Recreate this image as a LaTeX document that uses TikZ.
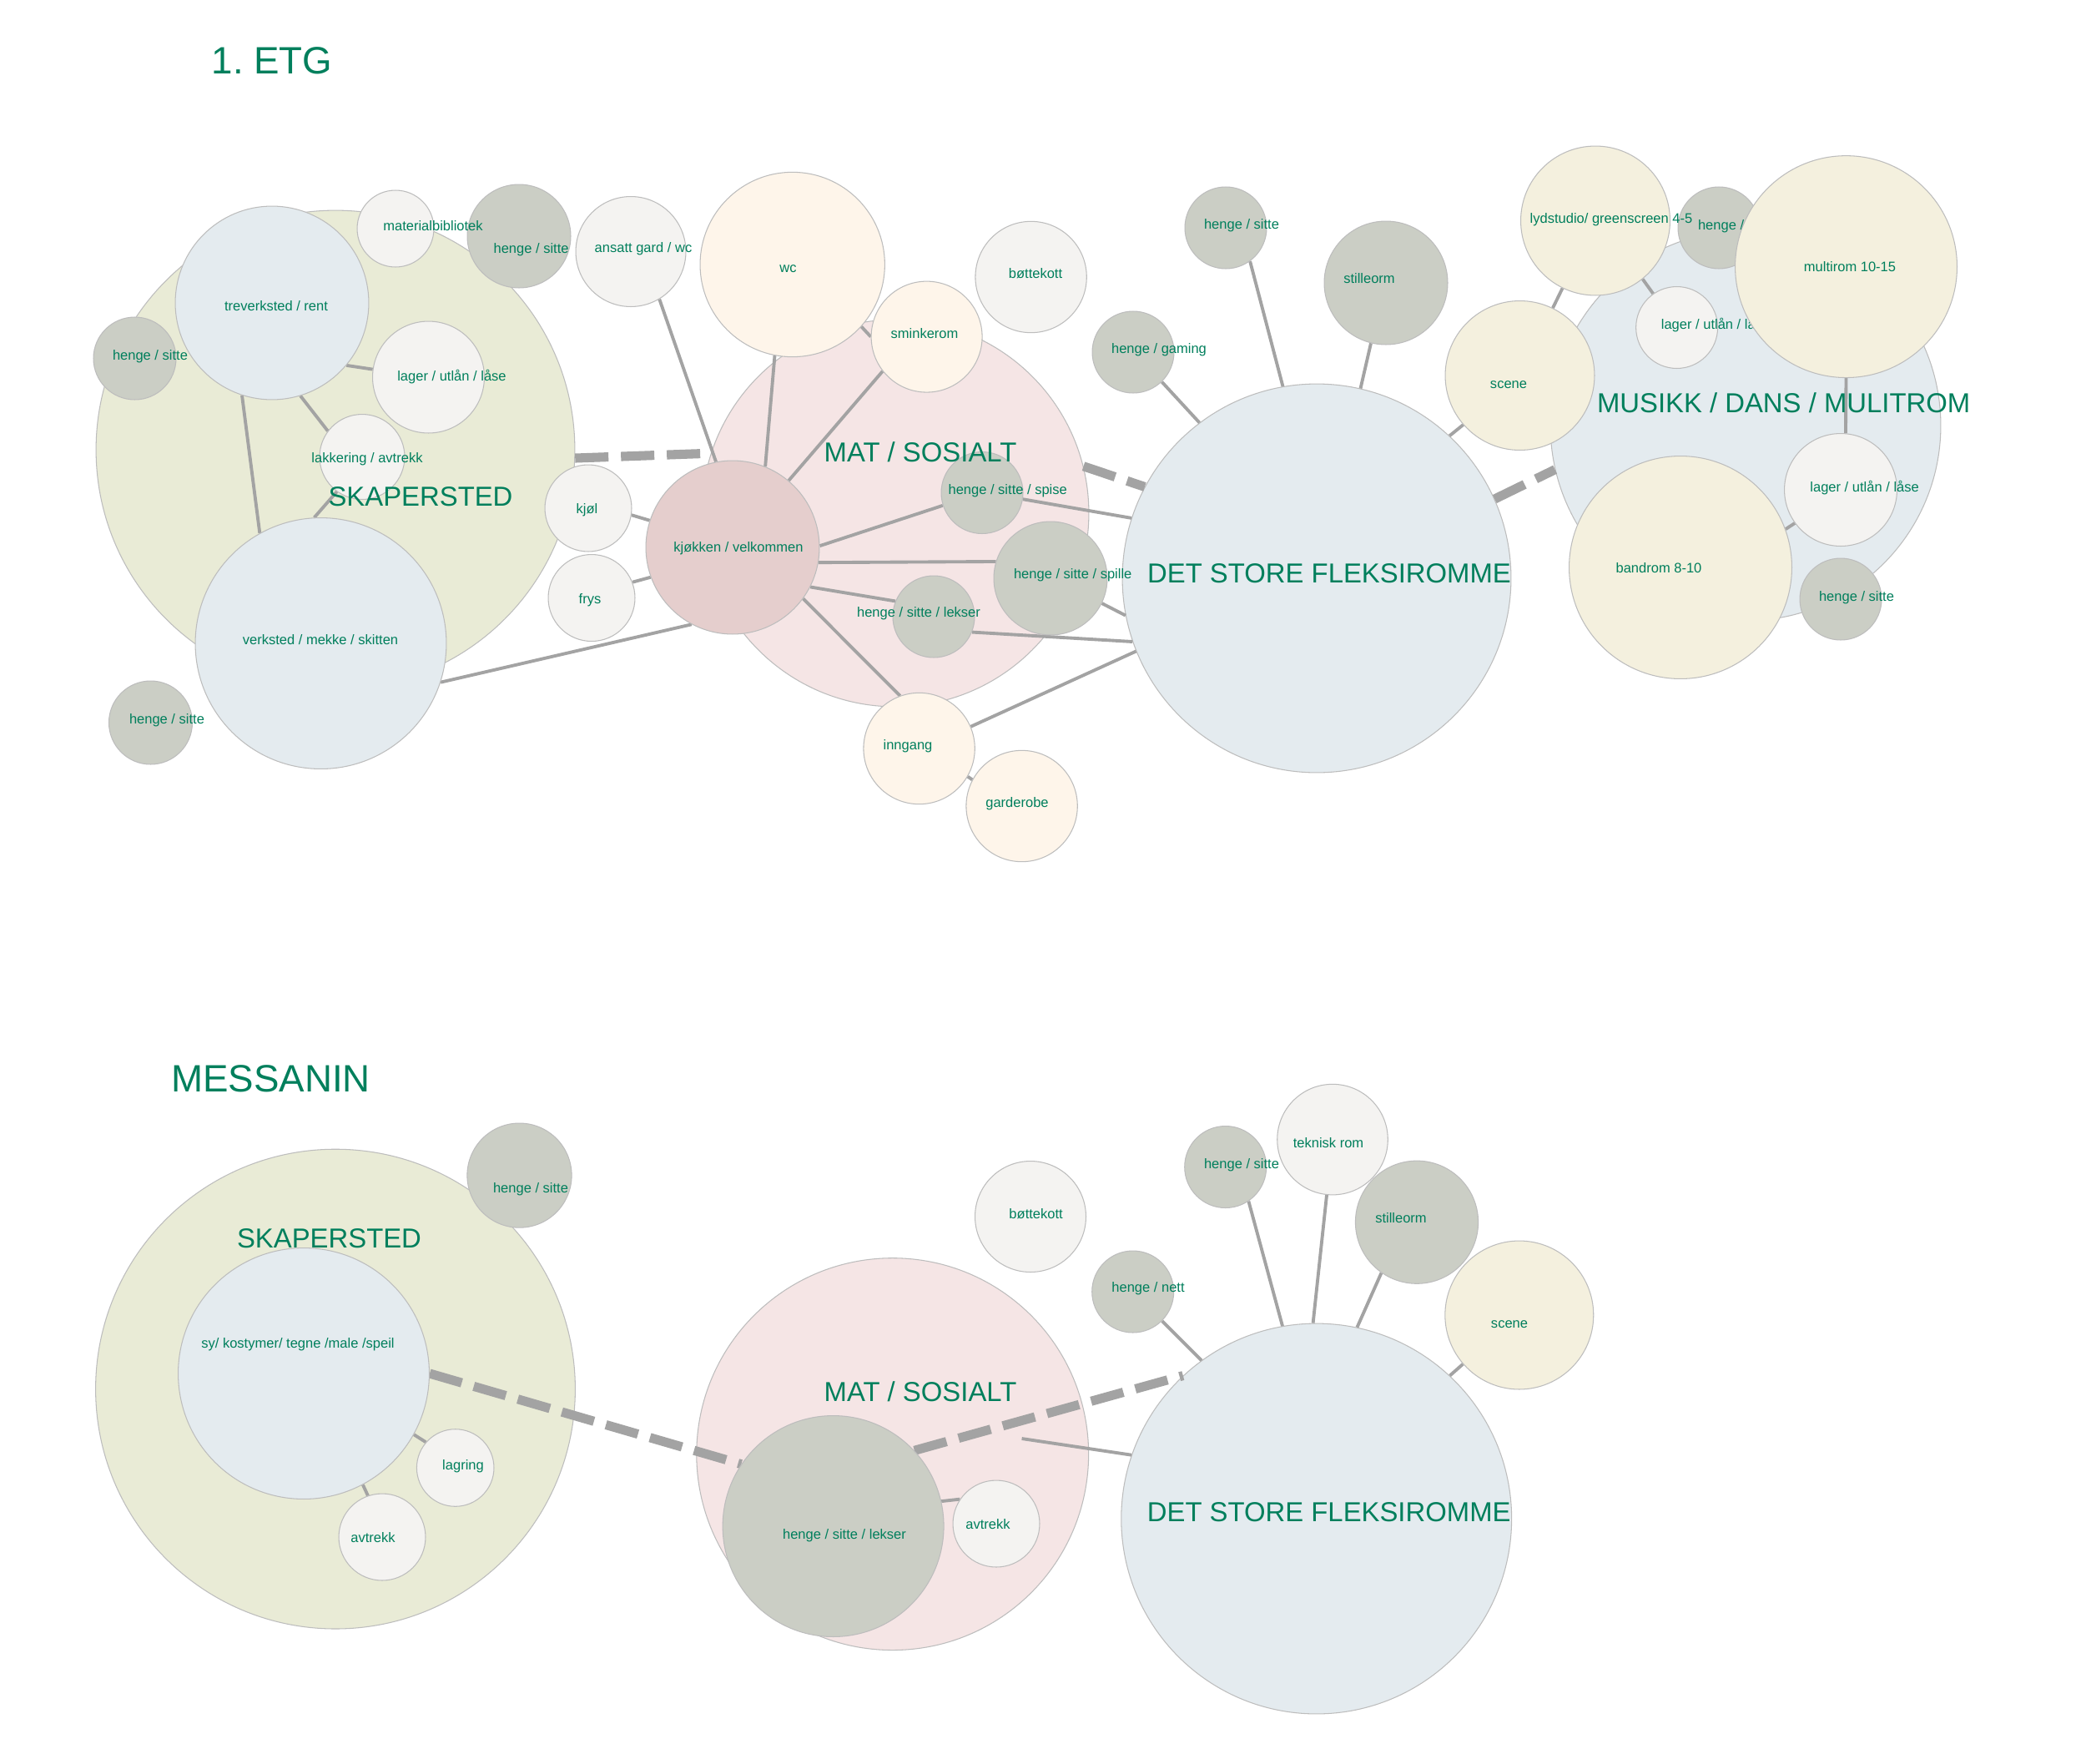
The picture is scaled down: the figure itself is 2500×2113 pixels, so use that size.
\documentclass[tikz,border=0pt]{standalone}
\usepackage{fontspec}
\setmainfont{Liberation Sans}
\frenchspacing
\pgfdeclarelayer{bgA}
\pgfdeclarelayer{bgB}
\pgfdeclarelayer{fg}
\pgfsetlayers{bgA,bgB,main,fg}
\definecolor{cskap}{HTML}{E9EBD6}
\definecolor{cblue}{HTML}{E4EBEF}
\definecolor{chenge}{HTML}{CBCEC5}
\definecolor{cwhite}{HTML}{F4F3F1}
\definecolor{cmat}{HTML}{F5E5E5}
\definecolor{ckjk}{HTML}{E5CECD}
\definecolor{ccream}{HTML}{FEF5EA}
\definecolor{cbeige}{HTML}{F4F0DE}
\definecolor{tgreen}{HTML}{007F5C}
\definecolor{lgray}{HTML}{A3A3A3}
\definecolor{ocol}{HTML}{BDBDBD}
\tikzset{
  bub/.style={circle, draw=ocol, line width=0.6pt, inner sep=0pt, minimum size=#1*0.04cm},
  sm/.style={text=tgreen, inner sep=0pt, font=\fontsize{9.4}{11}\selectfont},
  big/.style={text=tgreen, inner sep=0pt, font=\fontsize{18.7}{22}\selectfont},
  ttl/.style={text=tgreen, inner sep=0pt, font=\fontsize{26}{30}\selectfont},
  con/.style={draw=lgray, line width=2.2pt},
  dl/.style={draw=lgray, line width=6.3pt, dash pattern=on 0.8cm off 0.3cm},
}
\begin{document}
\begin{tikzpicture}[x=0.02cm, y=-0.02cm]
\begin{pgfonlayer}{bgA}
\fill[white] (0,0) rectangle (2500,2113);
\useasboundingbox (0,0) rectangle (2500,2113);
% top big circles
\node[bub=287, fill=cskap] (skap1) at (402,539) {};
\node[bub=232, fill=cmat] (mat1) at (1073,615) {};
\node[bub=233, fill=cblue] (det1) at (1578,693) {};
\node[bub=234, fill=cblue] (mus1) at (2092,510) {};
% bottom big circles
\node[bub=287.5, fill=cskap] (skap2) at (402,1664.6) {};
\node[bub=235, fill=cmat] (mat2) at (1069.7,1742.6) {};
\node[bub=234, fill=cblue] (det2) at (1577.7,1820) {};
\end{pgfonlayer}

% ---------- top small circles ----------
\node[bub=116, fill=cblue] (trev) at (326,363) {};
\node[bub=150.5, fill=cblue] (verk) at (384.5,771) {};
\node[bub=49.5, fill=chenge] (hsA) at (161.5,429.5) {};
\node[bub=62, fill=chenge] (hsB) at (622,283) {};
\node[bub=46, fill=cwhite] (matb) at (474,274) {};
\node[bub=67, fill=cwhite] (lag1) at (513.5,452) {};
\node[bub=51, fill=cwhite] (lakk) at (434,547.5) {};
\node[bub=50, fill=chenge] (hsC) at (180.5,866) {};
\node[bub=52, fill=cwhite] (kjol) at (705,609) {};
\node[bub=52, fill=cwhite] (frys) at (709,716.5) {};
\node[bub=66, fill=cwhite] (ansatt) at (756,301.5) {};
\node[bub=110.7, fill=ccream] (wc) at (949.7,317) {};
\node[bub=66.5, fill=ccream] (smink) at (1110.6,403.6) {};
\node[bub=66.7, fill=cwhite] (bott1) at (1235.6,332) {};
\node[bub=104, fill=ckjk] (kjk) at (878,656) {};
\node[bub=49, fill=chenge] (spise) at (1177,590.5) {};
\node[bub=68, fill=chenge] (spille) at (1259,693) {};
\node[bub=49, fill=chenge] (lek1) at (1119,739) {};
\node[bub=66.7, fill=ccream] (inng) at (1101.6,897) {};
\node[bub=66.7, fill=ccream] (gard) at (1224.6,966) {};
\node[bub=49, fill=chenge] (hsD) at (1469,273) {};
\node[bub=74, fill=chenge] (stil1) at (1661,339) {};
\node[bub=49, fill=chenge] (gam) at (1358,422) {};
\node[bub=89.5, fill=cbeige] (scene1) at (1821.5,450) {};
\node[bub=49, fill=chenge] (hsE) at (2060,273) {};
\node[sm] (t-hsE) at (2080,271) {henge / sitte};
\node[bub=89.5, fill=cbeige] (lyd) at (1912,264.5) {};
\node[bub=49, fill=cwhite] (lag2) at (2009.6,392.5) {};
\node[sm] (t-lag2) at (2056,389.6) {lager / utlån / låse};
\node[bub=133, fill=cbeige] (multi) at (2212.5,319.6) {};
\node[bub=67.5, fill=cwhite] (lag3) at (2206,587) {};
\node[bub=133.5, fill=cbeige] (band) at (2014,680) {};
\node[bub=49, fill=chenge] (hsF) at (2206,718) {};

% ---------- bottom small circles ----------
\node[bub=62.6, fill=chenge] (hsG) at (622.5,1408.6) {};
\node[bub=150.5, fill=cblue] (sy) at (364,1646) {};
\node[bub=46.3, fill=cwhite] (lagr) at (545.7,1759) {};
\node[bub=52, fill=cwhite] (avt1) at (458,1842) {};
\node[bub=66.5, fill=cwhite] (bott2) at (1235,1458) {};
\node[bub=49, fill=chenge] (nett) at (1357.7,1548) {};
\node[bub=66.3, fill=cwhite] (tek) at (1597,1365.6) {};
\node[bub=49, fill=chenge] (hsH) at (1468.7,1398.5) {};
\node[bub=73.6, fill=chenge] (stil2) at (1698,1464.7) {};
\node[bub=89, fill=cbeige] (scene2) at (1820.8,1576) {};
\node[bub=132.5, fill=chenge] (lek2) at (998.6,1829) {};
\node[bub=52, fill=cwhite] (avt2) at (1194,1826) {};
\coordinate (mfree) at (1224.6,1724);

% ---------- connectors ----------
\begin{pgfonlayer}{bgB}
\draw[con] (trev.-40.2) -- (lag1.172.2);
\draw[con] (trev.-73.6) -- (lakk.143.5);
\draw[con] (trev.-108.1) -- (verk.119.4);
\draw[con] (lakk.-126.4) -- (verk.93.4);
\draw[con] (kjol.-9.5) -- (kjk.162.7);
\draw[con] (frys.21.2) -- (kjk.-160.2);
\draw[con] (verk.-18.3) -- (kjk.-118.6);
\draw[con] (ansatt.-59.9) -- (kjk.101.5);
\draw[con] (wc.-101.3) -- (kjk.68.2);
\draw[con] (smink.-142.9) -- (kjk.50.1);
\draw[con] (wc.-42.3) -- (smink.180);
\draw[con] (kjk.1.7) -- (spise.-162.1);
\draw[con] (kjk.-10) -- (spille.163.6);
\draw[con] (kjk.-27.1) -- (lek1.158.6);
\draw[con] (spise.-9.6) -- (det1.162.1);
\draw[con] (kjk.-36.5) -- (inng.110.6);
\draw[con] (lek1.-22.8) -- (det1.-161.5);
\draw[con] (spille.-26) -- (det1.-169.5);
\draw[con] (inng.23.9) -- (det1.-158.2);
\draw[con] (inng.-30.6) -- (gard.152.4);
\draw[con] (gam.-46.6) -- (det1.127);
\draw[con] (hsD.-54.9) -- (det1.100.2);
\draw[con] (stil1.-104.9) -- (det1.77.9);
\draw[con] (scene1.-139.3) -- (det1.47.3);
\draw[con] (lyd.-116.5) -- (scene1.64.7);
\draw[con] (lyd.-51.5) -- (lag2.125.6);
\draw[con] (multi.-90) -- (lag3.85.2);
\draw[con] (band.20.1) -- (lag3.-144.7);
\draw[dl] (skap1.-2) -- (mat1.162.2);
\draw[dl] (mat1.14.2) -- (det1.152.2);
\draw[dl] (det1.24.8) -- (mus1.-167.7);
% bottom
\draw[con] (sy.-29.4) -- (lagr.139.1);
\draw[con] (sy.-62.5) -- (avt1.109.6);
\draw[con] (lek2.13.4) -- (avt2.146.3);
\draw[con] (nett.-45.6) -- (det2.126.7);
\draw[con] (hsH.-56) -- (det2.100.2);
\draw[con] (tek.-96.4) -- (det2.91.6);
\draw[con] (stil2.-125.2) -- (det2.78.1);
\draw[con] (scene2.-139.6) -- (det2.47.1);
\draw[con] (mfree) -- (det2.161.4);
\draw[dl] (sy.0.8) -- (lek2.146.6);
\draw[dl] (lek2.43.2) -- (det2.133.7);
\end{pgfonlayer}

% ---------- labels ----------
\begin{pgfonlayer}{fg}
\node[ttl] (t-etg) at (326,73) {1. ETG};
\node[big] (t-skap1) at (504,595) {SKAPERSTED};
\node[big] (t-mat1) at (1103,542) {MAT / SOSIALT};
\node[big] (t-det1) at (1593,687) {DET STORE FLEKSIROMME};
\node[big] (t-mus1) at (2137.6,483) {MUSIKK / DANS / MULITROM};
\node[sm] (t-trev) at (331,367) {treverksted / rent};
\node[sm] (t-verk) at (384,767) {verksted / mekke / skitten};
\node[sm] (t-hsA) at (180,427) {henge / sitte};
\node[sm] (t-hsB) at (636.6,299) {henge / sitte};
\node[sm] (t-matb) at (519,271) {materialbibliotek};
\node[sm] (t-lag1) at (541.5,452) {lager / utlån / låse};
\node[sm] (t-lakk) at (440,550) {lakkering / avtrekk};
\node[sm] (t-hsC) at (200,863) {henge / sitte};
\node[sm] (t-kjol) at (703.5,611) {kjøl};
\node[sm] (t-frys) at (707,719) {frys};
\node[sm] (t-ansatt) at (771,298) {ansatt gard / wc};
\node[sm] (t-wc) at (944.5,322) {wc};
\node[sm] (t-smink) at (1108,400) {sminkerom};
\node[sm] (t-bott1) at (1241,328) {bøttekott};
\node[sm] (t-kjk) at (885,657) {kjøkken / velkommen};
\node[sm] (t-spise) at (1207.7,588) {henge / sitte / spise};
\node[sm] (t-spille) at (1285.7,689) {henge / sitte / spille};
\node[sm] (t-lek1) at (1101,735) {henge / sitte / lekser};
\node[sm] (t-inng) at (1088,894) {inngang};
\node[sm] (t-gard) at (1219,963) {garderobe};
\node[sm] (t-hsD) at (1488,270) {henge / sitte};
\node[sm] (t-stil1) at (1641,334) {stilleorm};
\node[sm] (t-gam) at (1389,419.6) {henge / gaming};
\node[sm] (t-scene1) at (1808,461) {scene};
\node[sm] (t-lyd) at (1931,263) {lydstudio/ greenscreen 4-5};
\node[sm] (t-multi) at (2217,320) {multirom 10-15};
\node[sm] (t-lag3) at (2234.6,585) {lager / utlån / låse};
\node[sm] (t-band) at (1988,680.7) {bandrom 8-10};
\node[sm] (t-hsF) at (2225,716) {henge / sitte};
% bottom
\node[ttl] (t-mess) at (324.5,1293) {MESSANIN};
\node[big] (t-skap2) at (394.5,1484) {SKAPERSTED};
\node[big] (t-mat2) at (1103,1667.6) {MAT / SOSIALT};
\node[big] (t-det2) at (1592.7,1812) {DET STORE FLEKSIROMME};
\node[sm] (t-hsG) at (636,1425) {henge / sitte};
\node[sm] (t-sy) at (357,1611) {sy/ kostymer/ tegne /male /speil};
\node[sm] (t-lagr) at (555,1757) {lagring};
\node[sm] (t-avt1) at (447,1843) {avtrekk};
\node[sm] (t-bott2) at (1241.6,1454.6) {bøttekott};
\node[sm] (t-nett) at (1376,1544.6) {henge / nett};
\node[sm] (t-hsH) at (1488,1396) {henge / sitte};
\node[sm] (t-tek) at (1592,1370) {teknisk rom};
\node[sm] (t-stil2) at (1679,1459.4) {stilleorm};
\node[sm] (t-scene2) at (1809,1587) {scene};
\node[sm] (t-lek2) at (1012,1839.8) {henge / sitte / lekser};
\node[sm] (t-avt2) at (1184,1826.4) {avtrekk};
\end{pgfonlayer}
\end{tikzpicture}
\end{document}
